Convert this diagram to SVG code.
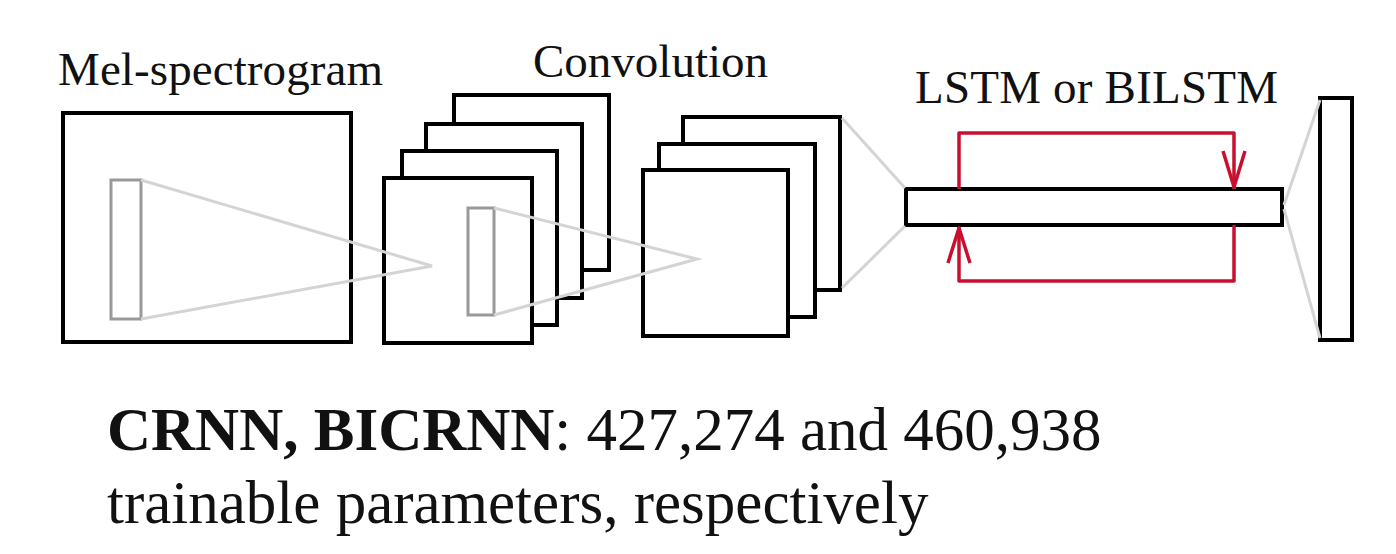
<svg xmlns="http://www.w3.org/2000/svg" width="1396" height="554" viewBox="0 0 1396 554">
  <style>
    .box { fill: #ffffff; stroke: #000000; stroke-width: 4; }
    .patch { fill: none; stroke: #999999; stroke-width: 3; }
    .field { fill: none; stroke: #d4d4d4; stroke-width: 3; }
    .loop { fill: none; stroke: #c8102e; stroke-width: 3.5; stroke-linejoin: round; }
    .label { font-family: "Liberation Serif", "Times New Roman", serif; fill: #111111; }
  </style>

  <rect width="1396" height="554" fill="#ffffff"/>

  <!-- input spectrogram -->
  <g id="mel-spectrogram">
    <rect class="box" x="63" y="113" width="288" height="229"/>
    <rect class="patch" x="111" y="180" width="30" height="139"/>
    <text class="label" x="58" y="85" font-size="47" textLength="325">Mel-spectrogram</text>
  </g>

  <!-- first convolution stack (back to front) -->
  <g id="conv-stack-1">
    <rect class="box" x="454" y="95" width="155" height="175"/>
    <rect class="box" x="426" y="124" width="156" height="174"/>
    <rect class="box" x="402" y="151" width="155" height="174"/>
    <rect class="box" x="384" y="178" width="148" height="165"/>
    <rect class="patch" x="468" y="208" width="26" height="107"/>
    <text class="label" x="533" y="77" font-size="47">Convolution</text>
  </g>

  <!-- second convolution stack (back to front) -->
  <g id="conv-stack-2">
    <rect class="box" x="683" y="117" width="157" height="173"/>
    <rect class="box" x="659" y="144" width="156" height="173"/>
    <rect class="box" x="643" y="170" width="145" height="166"/>
  </g>

  <!-- recurrent layer -->
  <g id="recurrent-layer">
    <rect class="box" x="906" y="189" width="376" height="36"/>
    <text class="label" x="915" y="103" font-size="47" textLength="363">LSTM or BILSTM</text>
  </g>

  <!-- output layer -->
  <g id="output-layer">
    <rect class="box" x="1320" y="98" width="32" height="242"/>
  </g>

  <!-- connectors: receptive fields and recurrent loop -->
  <g id="connectors">
    <polyline class="field" points="141,180 432,266 141,319"/>
    <polyline class="field" points="494,208 697,259 494,315"/>
    <polyline class="field" points="842,118 905,188"/>
    <polyline class="field" points="842,288 905,226"/>
    <polyline class="field" points="1284,205 1320,100"/>
    <polyline class="field" points="1284,209 1320,338"/>

    <!-- forward loop: over the top, down into the layer -->
    <polyline class="loop" points="959,189 959,133 1234,133 1234,189"/>
    <polyline class="loop" points="1223,151 1234,187 1245,151"/>
    <!-- backward loop: along the bottom, up into the layer -->
    <polyline class="loop" points="1234,225 1234,281 959,281 959,227"/>
    <polyline class="loop" points="948,263 959,228 970,263"/>
  </g>

  <!-- parameter counts -->
  <g id="caption">
    <text class="label" x="107" y="450" font-size="61"><tspan font-weight="bold">CRNN, BICRNN</tspan>: 427,274 and 460,938</text>
    <text class="label" x="107" y="523" font-size="61">trainable parameters, respectively</text>
  </g>
</svg>
